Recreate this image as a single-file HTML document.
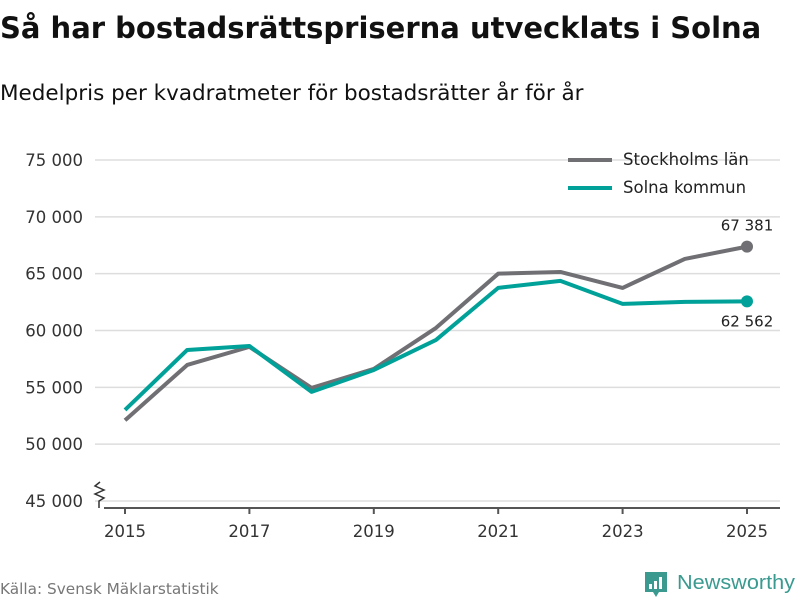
<!DOCTYPE html>
<html><head><meta charset="utf-8"><style>
body{margin:0;background:#fff;width:800px;height:600px;overflow:hidden;font-family:"DejaVu Sans","Liberation Sans",sans-serif}
</style></head><body>
<svg width="800" height="600" xmlns="http://www.w3.org/2000/svg">
<text x="0" y="38" font-size="29" font-weight="bold" fill="#111">Så har bostadsrättspriserna utvecklats i Solna</text>
<text x="0" y="100" font-size="21.5" fill="#111">Medelpris per kvadratmeter för bostadsrätter år för år</text>
<g id="grid"></g><g id="axes"></g><g id="lines"></g>
<g>
<line x1="568" y1="160" x2="612" y2="160" stroke="#707074" stroke-width="4"/>
<text x="623" y="165" font-size="16.5" fill="#222">Stockholms län</text>
<line x1="568" y1="188" x2="612" y2="188" stroke="#00a198" stroke-width="4"/>
<text x="623" y="193" font-size="16.5" fill="#222">Solna kommun</text>
</g>
<text x="0" y="594" font-size="15.3" fill="#777">Källa: Svensk Mäklarstatistik</text>
<g>
<path d="M645 572 h22 v20 h-8 l-3 5 l-3 -5 h-8 z" fill="#3a9a90"/>
<rect x="649" y="584" width="3" height="5" fill="#fff"/><rect x="654" y="581" width="3" height="8" fill="#fff"/><rect x="659" y="577" width="3" height="12" fill="#fff"/>
<text x="677" y="589" font-size="20" fill="#3a9a90" font-family="Liberation Sans, sans-serif" textLength="118" lengthAdjust="spacingAndGlyphs">Newsworthy</text>
</g>
</svg>
<script>
const years=[2015,2016,2017,2018,2019,2020,2021,2022,2023,2024,2025];
const stockholm=[52100,56970,58560,54950,56620,60230,65000,65150,63750,66300,67381];
const solna=[53010,58290,58640,54600,56530,59170,63750,64370,62340,62520,62562];
const yTicks=[45000,50000,55000,60000,65000,70000,75000];
const xTicks=[2015,2017,2019,2021,2023,2025];
const NS="http://www.w3.org/2000/svg";
const x=v=>125+(v-2015)*62.2;
const y=v=>501-(v-45000)/5000*56.83;
const fmt=v=>String(v).replace(/\B(?=(\d{3})+(?!\d))/g,"\u00a0");
function mk(tag,attrs,parent){const e=document.createElementNS(NS,tag);for(const k in attrs)e.setAttribute(k,attrs[k]);document.getElementById(parent).appendChild(e);return e;}
yTicks.forEach(v=>{
 const l=mk('line',{x1:95,x2:780,y1:y(v),y2:y(v),stroke:'#ddd','stroke-width':1.5},'grid');
 
 
 const t=mk('text',{x:83,y:y(v)+6,'text-anchor':'end','font-size':16.5,fill:'#333'},'grid');
 t.textContent=fmt(v);
 
 
});
const base=mk('line',{x1:104,x2:780,y1:508,y2:508,stroke:'#555','stroke-width':2},'axes');


const brk=mk('path',{d:'M100 482 l-5 4 l9 4 l-9 4 l9 4 l-5 3 v7',fill:'none',stroke:'#333','stroke-width':1.5},'axes');


xTicks.forEach(v=>{
 const tk=mk('line',{x1:x(v),x2:x(v),y1:508,y2:514,stroke:'#555','stroke-width':2},'axes');
 
 
 const t=mk('text',{x:x(v),y:537,'text-anchor':'middle','font-size':16.5,fill:'#333'},'axes');
 t.textContent=v;
 
 
});
function series(vals,color,name,labelDy){
 const p=mk('polyline',{points:vals.map((v,i)=>x(years[i])+','+y(v)).join(' '),fill:'none',stroke:color,'stroke-width':4,'stroke-linejoin':'round'},'lines');
 
 
 const n=vals.length-1;
 const c=mk('circle',{cx:x(years[n]),cy:y(vals[n]),r:6,fill:color},'lines');
 
 
 const t=mk('text',{x:x(years[n]),y:y(vals[n])+labelDy,'text-anchor':'middle','font-size':15,fill:'#222'},'lines');
 t.textContent=fmt(vals[n]);
 
 
}
series(stockholm,'#707074','stockholm',-16);
series(solna,'#00a198','solna',25);
</script>
</body></html>
